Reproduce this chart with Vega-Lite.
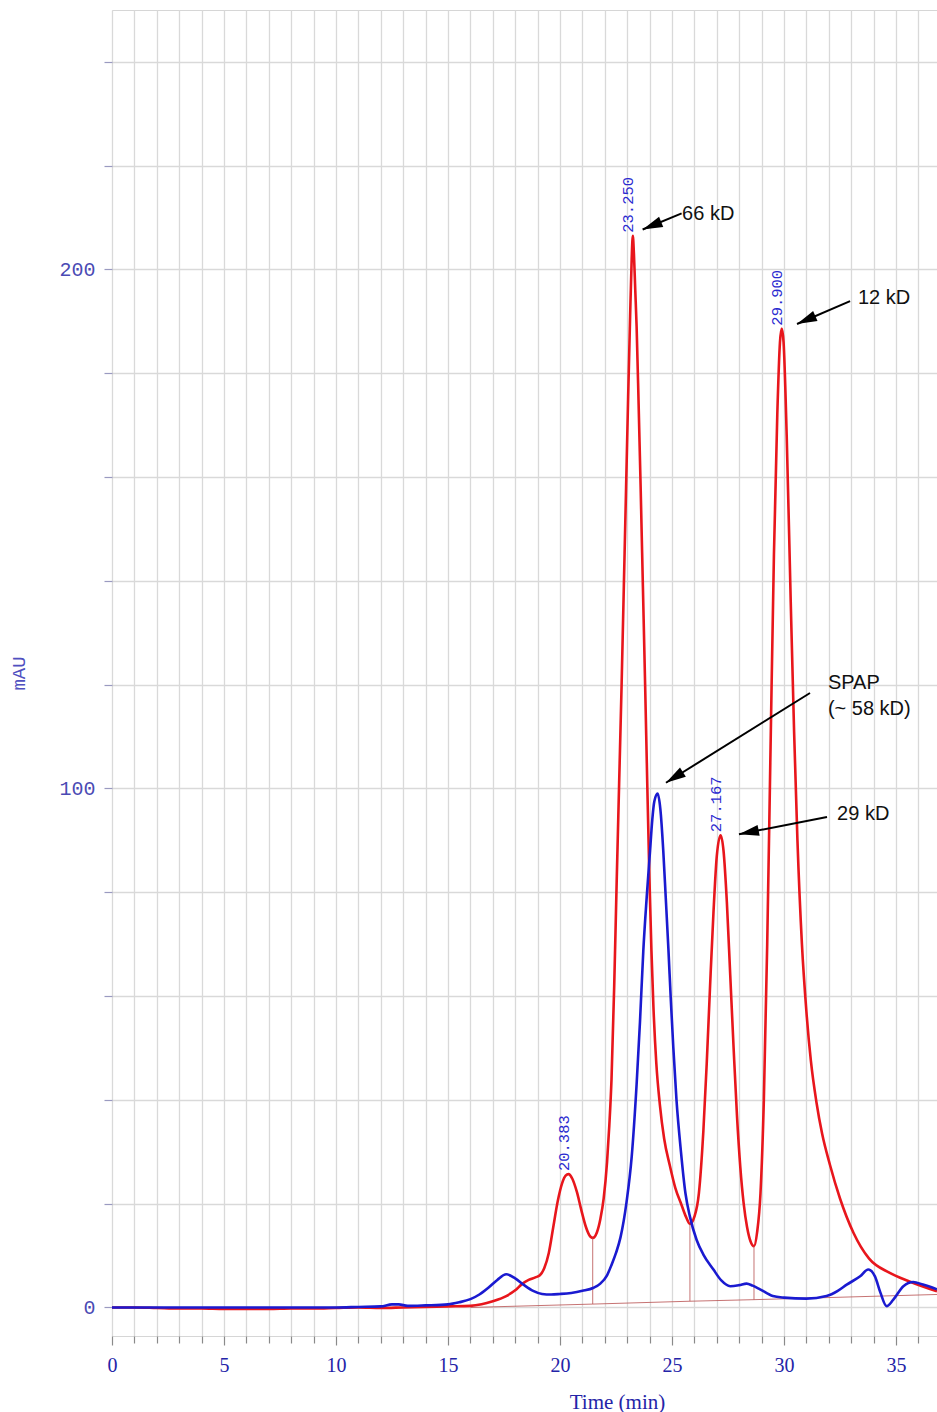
{
  "$schema": "https://vega.github.io/schema/vega-lite/v6.json",
  "width": 825,
  "height": 1326,
  "autosize": "none",
  "padding": {"left": 112, "top": 10, "right": 0, "bottom": 76},
  "background": "white",
  "config": {
    "view": {"stroke": "#d6d6d6", "strokeWidth": 1},
    "axis": {"gridColor": "#d9d9d9", "gridWidth": 1.3, "domain": false}
  },
  "datasets": {
    "red": [
      {"t": 0, "v": 0}, {"t": 1, "v": 0}, {"t": 2, "v": -0.1}, {"t": 3, "v": -0.2}, {"t": 4, "v": -0.2},
      {"t": 5, "v": -0.3}, {"t": 6, "v": -0.3}, {"t": 7, "v": -0.3}, {"t": 8, "v": -0.2}, {"t": 9, "v": -0.2},
      {"t": 10, "v": -0.1}, {"t": 11, "v": 0}, {"t": 12, "v": -0.1}, {"t": 13, "v": 0}, {"t": 14, "v": 0.1},
      {"t": 15, "v": 0.2}, {"t": 16, "v": 0.3}, {"t": 16.5, "v": 0.6}, {"t": 17.0, "v": 1.2}, {"t": 17.6, "v": 2.2},
      {"t": 18.0, "v": 3.3}, {"t": 18.3, "v": 4.5}, {"t": 18.6, "v": 5.3}, {"t": 18.9, "v": 5.8}, {"t": 19.1, "v": 6.2},
      {"t": 19.3, "v": 7.6}, {"t": 19.5, "v": 10.5}, {"t": 19.7, "v": 15.5}, {"t": 19.9, "v": 20.5}, {"t": 20.1, "v": 24},
      {"t": 20.25, "v": 25.4}, {"t": 20.38, "v": 25.7}, {"t": 20.55, "v": 24.8}, {"t": 20.75, "v": 22.3}, {"t": 20.95, "v": 18.8},
      {"t": 21.15, "v": 15.6}, {"t": 21.3, "v": 14}, {"t": 21.46, "v": 13.4}, {"t": 21.65, "v": 14.5}, {"t": 21.8, "v": 17},
      {"t": 21.95, "v": 21}, {"t": 22.1, "v": 28}, {"t": 22.2, "v": 35}, {"t": 22.3, "v": 44}, {"t": 22.42, "v": 62},
      {"t": 22.53, "v": 82}, {"t": 22.64, "v": 101}, {"t": 22.75, "v": 120}, {"t": 22.85, "v": 139}, {"t": 22.95, "v": 158},
      {"t": 23.04, "v": 175}, {"t": 23.13, "v": 191}, {"t": 23.2, "v": 202}, {"t": 23.25, "v": 206.5}, {"t": 23.3, "v": 203},
      {"t": 23.36, "v": 196}, {"t": 23.42, "v": 189}, {"t": 23.51, "v": 174}, {"t": 23.6, "v": 158}, {"t": 23.7, "v": 139},
      {"t": 23.8, "v": 120}, {"t": 23.9, "v": 100}, {"t": 23.99, "v": 83}, {"t": 24.08, "v": 69}, {"t": 24.17, "v": 58},
      {"t": 24.3, "v": 47}, {"t": 24.46, "v": 39}, {"t": 24.65, "v": 32.5}, {"t": 24.9, "v": 27.4}, {"t": 25.15, "v": 23},
      {"t": 25.43, "v": 19.7}, {"t": 25.62, "v": 17.5}, {"t": 25.8, "v": 16.1}, {"t": 26.0, "v": 17.5}, {"t": 26.2, "v": 22},
      {"t": 26.4, "v": 34}, {"t": 26.55, "v": 47}, {"t": 26.7, "v": 62}, {"t": 26.85, "v": 76}, {"t": 27.0, "v": 87},
      {"t": 27.17, "v": 91}, {"t": 27.3, "v": 88}, {"t": 27.45, "v": 78}, {"t": 27.6, "v": 64}, {"t": 27.75, "v": 50},
      {"t": 27.9, "v": 37}, {"t": 28.05, "v": 27}, {"t": 28.2, "v": 20}, {"t": 28.35, "v": 15.5}, {"t": 28.5, "v": 12.8},
      {"t": 28.66, "v": 11.8}, {"t": 28.8, "v": 14.5}, {"t": 28.95, "v": 22}, {"t": 29.1, "v": 40}, {"t": 29.25, "v": 70},
      {"t": 29.4, "v": 108}, {"t": 29.55, "v": 145}, {"t": 29.7, "v": 172}, {"t": 29.82, "v": 186}, {"t": 29.9, "v": 188.6},
      {"t": 29.98, "v": 186}, {"t": 30.12, "v": 168}, {"t": 30.3, "v": 136}, {"t": 30.45, "v": 111}, {"t": 30.6, "v": 90},
      {"t": 30.8, "v": 70}, {"t": 31.0, "v": 57}, {"t": 31.2, "v": 47.5}, {"t": 31.45, "v": 39.5}, {"t": 31.7, "v": 33.5},
      {"t": 32.05, "v": 27.5}, {"t": 32.5, "v": 21}, {"t": 33.1, "v": 14.4}, {"t": 33.8, "v": 9.4}, {"t": 34.7, "v": 6.7},
      {"t": 35.6, "v": 5.0}, {"t": 36.83, "v": 3.1}
    ],
    "blue": [
      {"t": 0, "v": 0}, {"t": 2, "v": 0}, {"t": 4, "v": 0}, {"t": 6, "v": 0}, {"t": 8, "v": 0}, {"t": 10, "v": 0},
      {"t": 11, "v": 0.1}, {"t": 12, "v": 0.2}, {"t": 12.5, "v": 0.6}, {"t": 12.8, "v": 0.6}, {"t": 13.2, "v": 0.3},
      {"t": 14, "v": 0.4}, {"t": 15, "v": 0.6}, {"t": 15.5, "v": 1.0}, {"t": 16.0, "v": 1.6}, {"t": 16.4, "v": 2.5},
      {"t": 16.8, "v": 3.8}, {"t": 17.2, "v": 5.3}, {"t": 17.6, "v": 6.4}, {"t": 18.0, "v": 5.6}, {"t": 18.4, "v": 4.3},
      {"t": 18.8, "v": 3.2}, {"t": 19.2, "v": 2.6}, {"t": 19.6, "v": 2.5}, {"t": 20.0, "v": 2.6}, {"t": 20.5, "v": 2.8},
      {"t": 21.0, "v": 3.2}, {"t": 21.5, "v": 3.8}, {"t": 21.8, "v": 4.6}, {"t": 22.1, "v": 6.2}, {"t": 22.3, "v": 8.2},
      {"t": 22.5, "v": 10.5}, {"t": 22.7, "v": 13.5}, {"t": 22.97, "v": 20.3}, {"t": 23.2, "v": 29}, {"t": 23.42, "v": 43},
      {"t": 23.57, "v": 55}, {"t": 23.72, "v": 68.8}, {"t": 23.87, "v": 79}, {"t": 24.02, "v": 88}, {"t": 24.12, "v": 94},
      {"t": 24.21, "v": 97.5}, {"t": 24.36, "v": 99}, {"t": 24.48, "v": 96}, {"t": 24.61, "v": 88}, {"t": 24.72, "v": 79},
      {"t": 24.84, "v": 69}, {"t": 24.95, "v": 59}, {"t": 25.06, "v": 50}, {"t": 25.2, "v": 40}, {"t": 25.4, "v": 30},
      {"t": 25.6, "v": 22}, {"t": 25.8, "v": 17.5}, {"t": 26.1, "v": 13}, {"t": 26.4, "v": 10.2}, {"t": 26.85, "v": 7.3},
      {"t": 27.2, "v": 5.2}, {"t": 27.6, "v": 4.1}, {"t": 28.0, "v": 4.3}, {"t": 28.33, "v": 4.6}, {"t": 28.6, "v": 4.2},
      {"t": 28.93, "v": 3.5}, {"t": 29.5, "v": 2.2}, {"t": 30.0, "v": 1.9}, {"t": 31.0, "v": 1.7}, {"t": 31.9, "v": 2.2},
      {"t": 32.4, "v": 3.2}, {"t": 32.8, "v": 4.4}, {"t": 33.4, "v": 6.0}, {"t": 33.76, "v": 7.3}, {"t": 34.06, "v": 6.0},
      {"t": 34.3, "v": 2.9}, {"t": 34.58, "v": 0.25}, {"t": 34.88, "v": 1.5}, {"t": 35.33, "v": 4.1}, {"t": 35.77, "v": 4.9},
      {"t": 36.2, "v": 4.4}, {"t": 36.83, "v": 3.5}
    ],
    "baseline": [
      {"t": 16.0, "v": 0.0}, {"t": 21.46, "v": 0.65}, {"t": 25.8, "v": 1.2}, {"t": 28.66, "v": 1.5}, {"t": 36.83, "v": 2.5}
    ],
    "drops": [
      {"t": 21.46, "v": 0.65, "hi": 13.4},
      {"t": 25.8, "v": 1.2, "hi": 16.1},
      {"t": 28.66, "v": 1.5, "hi": 11.8}
    ],
    "peaks": [
      {"t": 20.383, "v": 25.7, "label": "20.383"},
      {"t": 23.25, "v": 206.5, "label": "23.250"},
      {"t": 27.167, "v": 91, "label": "27.167"},
      {"t": 29.9, "v": 188.6, "label": "29.900"}
    ],
    "arrows": [
      {"name": "66", "t": 25.43, "v": 210.8, "t2": 23.69, "v2": 207.7},
      {"name": "12", "t": 32.95, "v": 193.9, "t2": 30.58, "v2": 189.5},
      {"name": "spap", "t": 31.16, "v": 118.4, "t2": 24.73, "v2": 101.1},
      {"name": "29", "t": 31.92, "v": 94.5, "t2": 27.99, "v2": 91.2}
    ],
    "heads": [
      {"name": "66", "t": 23.69, "v": 207.7},
      {"name": "12", "t": 30.58, "v": 189.5},
      {"name": "spap", "t": 24.73, "v": 101.1},
      {"name": "29", "t": 27.99, "v": 91.2}
    ],
    "notes": [
      {"t": 25.45, "v": 210.7, "text": "66 kD"},
      {"t": 33.3, "v": 194.5, "text": "12 kD"},
      {"t": 31.96, "v": 120.3, "text": "SPAP"},
      {"t": 31.96, "v": 115.3, "text": "(~ 58 kD)"},
      {"t": 32.37, "v": 95.1, "text": "29 kD"}
    ]
  },
  "encoding": {
    "x": {
      "field": "t", "type": "quantitative",
      "scale": {"domain": [0, 36.83], "nice": false, "zero": false},
      "axis": {
        "values": [0,1,2,3,4,5,6,7,8,9,10,11,12,13,14,15,16,17,18,19,20,21,22,23,24,25,26,27,28,29,30,31,32,33,34,35,36],
        "labelExpr": "datum.value % 5 === 0 ? datum.label : ''",
        "title": "Time (min)",
        "titleFont": "Liberation Serif", "titleFontSize": 21, "titleFontWeight": "normal", "titleColor": "#2424a8",
        "titleX": 505, "titleY": 66, "titleAlign": "center", "titleBaseline": "middle",
        "labelFont": "Liberation Serif", "labelFontSize": 20, "labelColor": "#2424a8",
        "labelPadding": 10, "labelFlush": false, "labelOverlap": false,
        "tickColor": "#8a8a8a", "tickWidth": 1.2,
        "tickSize": {"condition": {"test": "datum.value % 5 === 0", "value": 9}, "value": 7},
        "grid": true
      }
    },
    "y": {
      "field": "v", "type": "quantitative",
      "scale": {"domain": [-5.5, 250], "nice": false, "zero": false},
      "axis": {
        "values": [0,20,40,60,80,100,120,140,160,180,200,220,240],
        "labelExpr": "datum.value % 100 === 0 ? datum.label : ''",
        "title": "mAU",
        "titleFont": "Liberation Mono", "titleFontSize": 19, "titleFontWeight": "normal", "titleColor": "#5050c0",
        "titleX": -94, "titleY": 663, "titleAngle": 270, "titleAlign": "center", "titleBaseline": "middle",
        "labelFont": "Liberation Mono", "labelFontSize": 20, "labelColor": "#4a4ab4",
        "labelPadding": 9, "labelOverlap": false, "labelFlush": false,
        "tickColor": "#9a9ac0", "tickWidth": 1.2, "tickSize": 8,
        "grid": true
      }
    }
  },
  "layer": [
    {
      "data": {"name": "red"},
      "mark": {"type": "line", "color": "#e8161c", "strokeWidth": 2.6, "interpolate": "monotone"}
    },
    {
      "data": {"name": "baseline"},
      "mark": {"type": "line", "color": "#b85050", "strokeWidth": 1, "opacity": 0.8}
    },
    {
      "data": {"name": "drops"},
      "mark": {"type": "rule", "color": "#b85050", "strokeWidth": 1, "opacity": 0.8},
      "encoding": {"y2": {"field": "hi"}}
    },
    {
      "data": {"name": "blue"},
      "mark": {"type": "line", "color": "#1a1ad0", "strokeWidth": 2.6, "interpolate": "monotone"}
    },
    {
      "data": {"name": "peaks"},
      "mark": {"type": "text", "angle": 270, "align": "left", "baseline": "middle", "dx": 3, "dy": -5,
               "font": "Liberation Mono", "fontSize": 15.5, "color": "#2a2ad0"},
      "encoding": {"text": {"field": "label"}}
    },
    {
      "data": {"name": "arrows"},
      "mark": {"type": "rule", "color": "black", "strokeWidth": 2},
      "encoding": {"x2": {"field": "t2"}, "y2": {"field": "v2"}}
    },
    {
      "data": {"name": "heads"},
      "transform": [{"filter": "datum.name === '66'"}],
      "mark": {"type": "point", "shape": "M0,0L-2,-0.55L-2,0.55Z", "filled": true, "color": "black", "opacity": 1, "size": 400, "angle": 157.7}
    },
    {
      "data": {"name": "heads"},
      "transform": [{"filter": "datum.name === '12'"}],
      "mark": {"type": "point", "shape": "M0,0L-2,-0.55L-2,0.55Z", "filled": true, "color": "black", "opacity": 1, "size": 400, "angle": 156.5}
    },
    {
      "data": {"name": "heads"},
      "transform": [{"filter": "datum.name === 'spap'"}],
      "mark": {"type": "point", "shape": "M0,0L-2,-0.55L-2,0.55Z", "filled": true, "color": "black", "opacity": 1, "size": 400, "angle": 148}
    },
    {
      "data": {"name": "heads"},
      "transform": [{"filter": "datum.name === '29'"}],
      "mark": {"type": "point", "shape": "M0,0L-2,-0.55L-2,0.55Z", "filled": true, "color": "black", "opacity": 1, "size": 400, "angle": 169.1}
    },
    {
      "data": {"name": "notes"},
      "mark": {"type": "text", "align": "left", "baseline": "middle", "font": "Liberation Sans", "fontSize": 20, "color": "#111111"},
      "encoding": {"text": {"field": "text"}}
    }
  ]
}
